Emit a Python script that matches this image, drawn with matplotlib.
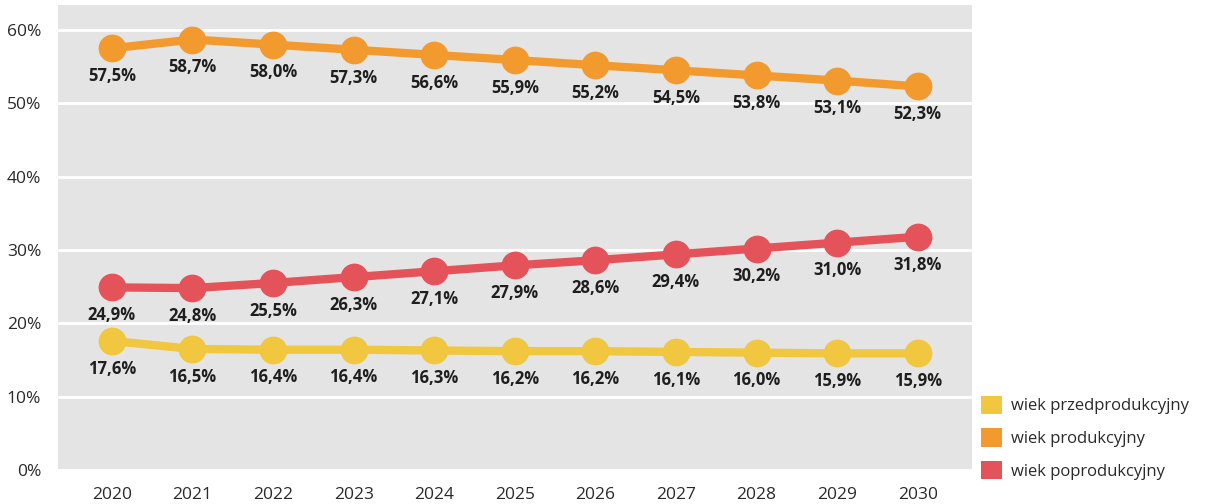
import numpy as np
import matplotlib.pyplot as plt
from matplotlib.patches import Patch

plt.rcParams['font.family'] = ['Open Sans', 'DejaVu Sans']

lata = [2020, 2021, 2022, 2023, 2024, 2025, 2026, 2027, 2028, 2029, 2030]
przed = [17.6, 16.5, 16.4, 16.4, 16.3, 16.2, 16.2, 16.1, 16.0, 15.9, 15.9]
prod = [57.5, 58.7, 58.0, 57.3, 56.6, 55.9, 55.2, 54.5, 53.8, 53.1, 52.3]
poprod = [24.9, 24.8, 25.5, 26.3, 27.1, 27.9, 28.6, 29.4, 30.2, 31.0, 31.8]
nazwy = ["wiek przedprodukcyjny", "wiek produkcyjny", "wiek poprodukcyjny"]
kolory = ["#f0c73f", "#f39a2f", "#e4535a"]

fig = plt.figure(figsize=(12.07, 5.04), dpi=100)
ax = fig.add_axes([0.048, 0.0675, 0.757, 0.9225])
ax.set_facecolor("#e4e4e4")

for serie, kol in zip([prod, poprod, przed], [kolory[1], kolory[2], kolory[0]]):
    ax.plot(lata, serie, color=kol, lw=6, marker="o", ms=19, solid_capstyle="round", zorder=3)
    for x, y in zip(lata, serie):
        ax.annotate(f"{y:.1f}%".replace(".", ","), (x, y), xytext=(0, -20),
                    textcoords="offset points", ha="center", va="center",
                    fontsize=12, fontweight="bold", color="#1e1e1e", zorder=4)

ax.set_xlim(2019.33, 2030.67)
ax.set_ylim(0, 63.4)
ax.set_xticks(lata)
ax.set_yticks(np.arange(0, 61, 10))
ax.set_yticklabels([f"{v}%" for v in range(0, 61, 10)])
ax.grid(axis="y", color="white", lw=2)
ax.set_axisbelow(True)
for s in ax.spines.values():
    s.set_visible(False)
ax.tick_params(length=0, labelsize=12.5, colors="#2a2a2a")
ax.tick_params(axis="x", pad=12)
ax.tick_params(axis="y", pad=12)

uchwyty = [Patch(facecolor=k, edgecolor="none") for k in kolory]
fig.legend(uchwyty, nazwy, loc="upper left", bbox_to_anchor=(0.8, 0.245),
           frameon=False, fontsize=12, handlelength=1.3, handleheight=1.3,
           labelspacing=0.85, handletextpad=0.5, labelcolor="#2a2a2a")

fig.savefig("out.png", dpi=100)
